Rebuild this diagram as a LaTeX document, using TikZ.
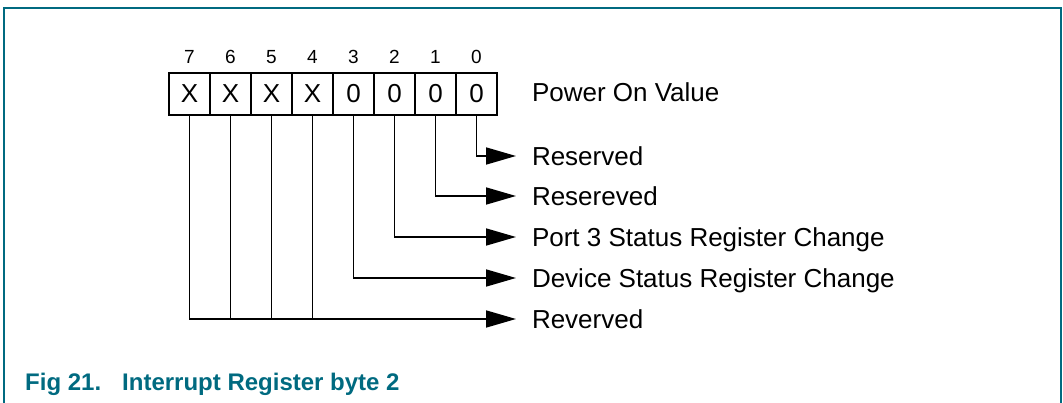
\documentclass[tikz,border=0pt]{standalone}
\usepackage{fontspec}
\setmainfont{Liberation Sans}
\usetikzlibrary{arrows.meta}
\definecolor{nxpteal}{RGB}{0,106,128}
\tikzset{
  cell/.style={draw, line width=1.8pt, minimum width=41pt, minimum height=42pt, inner sep=0pt, outer sep=0pt, font=\fontsize{26}{30}\selectfont},
  bitnum/.style={inner sep=0pt, font=\fontsize{19}{22}\selectfont},
  lbl/.style={anchor=west, inner xsep=16pt, inner ysep=0pt, outer sep=0pt, text height=18.6pt, text depth=0pt, font=\fontsize{26}{30}\selectfont},
  conn/.style={line width=1.7pt},
  arr/.style={conn, -{Triangle[length=30pt, width=17pt]}},
  frame/.style={nxpteal, line width=1.6pt},
}
\begin{document}
\begin{tikzpicture}[x=1pt, y=-1pt]
\useasboundingbox (0,0) rectangle (1063,403);
\draw[frame] (4,403) -- (4,8) -- (1061,8) -- (1061,403);
% cells
\foreach \b/\v [count=\i from 0] in {7/X,6/X,5/X,4/X,3/0,2/0,1/0,0/0} {
  \node[cell] (c\b) at ({189.5+41*\i},94) {\v};
  \node[bitnum] (n\b) at ({189.5+41*\i},57) {\b};
}
\node[lbl, anchor=base west] (pov) at (516,101.7) {Power On Value};
\node[lbl] (l0) at (516,156) {Reserved};
\node[lbl] (l1) at (516,196) {Resereved};
\node[lbl] (l2) at (516,237) {Port 3 Status Register Change};
\node[lbl] (l3) at (516,278) {Device Status Register Change};
\node[lbl] (l4) at (516,319) {Reverved};
\draw[arr] (c0.south) |- (l0.west);
\draw[arr] (c1.south) |- (l1.west);
\draw[arr] (c2.south) |- (l2.west);
\draw[arr] (c3.south) |- (l3.west);
\draw[arr] (c7.south) |- (l4.west);
\foreach \b in {6,5,4} \draw[conn] (c\b.south) -- (c\b.south |- l4.west);
\node[anchor=base west, inner sep=0pt, text=nxpteal, font=\bfseries\fontsize{24}{28}\selectfont] (cap) at (25,390) {\makebox[97pt][l]{Fig 21.}Interrupt Register byte 2};
\end{tikzpicture}
\end{document}
